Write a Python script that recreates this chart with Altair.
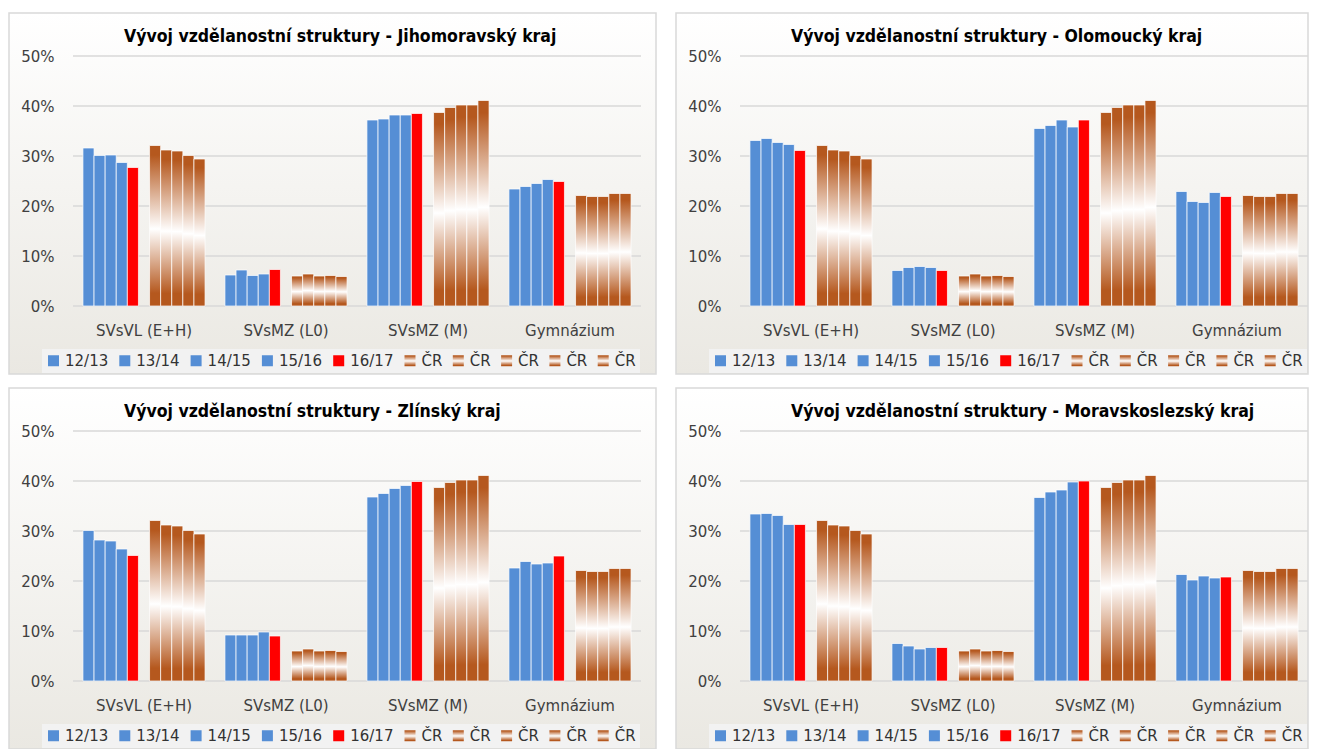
import altair as alt
import pandas as pd

categories = ["SVsVL (E+H)", "SVsMZ (L0)", "SVsMZ (M)", "Gymnázium"]
years = ["12/13", "13/14", "14/15", "15/16", "16/17"]
cr_keys = ["ČR " + y for y in years]

# national (ČR) values per category, one per school year
cr_svsvl = [32.1, 31.2, 31.0, 30.1, 29.4]
cr_l0 = [6.0, 6.4, 6.0, 6.1, 5.9]
cr_m = [38.7, 39.7, 40.2, 40.2, 41.1]
cr_gym = [22.1, 21.9, 21.9, 22.5, 22.5]
cr_values = [cr_svsvl, cr_l0, cr_m, cr_gym]

# regional values
jmk_svsvl = [31.6, 30.1, 30.2, 28.7, 27.7]
jmk_l0 = [6.2, 7.2, 6.1, 6.4, 7.3]
jmk_m = [37.2, 37.4, 38.2, 38.2, 38.5]
jmk_gym = [23.4, 23.9, 24.5, 25.3, 24.9]

olk_svsvl = [33.1, 33.5, 32.7, 32.3, 31.1]
olk_l0 = [7.1, 7.7, 7.9, 7.7, 7.1]
olk_m = [35.5, 36.1, 37.2, 35.8, 37.2]
olk_gym = [22.9, 20.9, 20.7, 22.7, 21.9]

zlk_svsvl = [30.1, 28.2, 28.0, 26.4, 25.1]
zlk_l0 = [9.2, 9.2, 9.2, 9.8, 9.0]
zlk_m = [36.8, 37.5, 38.5, 39.1, 39.9]
zlk_gym = [22.6, 23.9, 23.4, 23.6, 25.0]

msk_svsvl = [33.4, 33.5, 33.1, 31.3, 31.3]
msk_l0 = [7.5, 7.0, 6.4, 6.7, 6.7]
msk_m = [36.7, 37.8, 38.2, 39.8, 40.0]
msk_gym = [21.3, 20.2, 21.0, 20.6, 20.8]

regions = [
    ("Vývoj vzdělanostní struktury - Jihomoravský kraj", [jmk_svsvl, jmk_l0, jmk_m, jmk_gym]),
    ("Vývoj vzdělanostní struktury - Olomoucký kraj", [olk_svsvl, olk_l0, olk_m, olk_gym]),
    ("Vývoj vzdělanostní struktury - Zlínský kraj", [zlk_svsvl, zlk_l0, zlk_m, zlk_gym]),
    ("Vývoj vzdělanostní struktury - Moravskoslezský kraj", [msk_svsvl, msk_l0, msk_m, msk_gym]),
]

y_ticks = [0, 10, 20, 30, 40, 50]

BLUE = "#558ED5"
RED = "#FF0000"
BROWN = "#B5581E"
TEXT = "#404040"
LABEL_FONT = "DejaVu Sans"
TITLE_FONT = "Liberation Sans Narrow, DejaVu Sans Condensed, Arial Narrow, sans-serif"

grad_expr = (
    "{gradient:'linear',x1:0,y1:0,x2:0,y2:1,stops:["
    "{offset:0,color:'" + BROWN + "'},"
    "{offset:0.06,color:'" + BROWN + "'},"
    "{offset:0.52,color:'#FFFFFF'},"
    "{offset:0.92,color:'" + BROWN + "'},"
    "{offset:1,color:'" + BROWN + "'}]}"
)

series_domain = years + cr_keys
offset_domain = years + ["gap"] + cr_keys
color_range = [BLUE, BLUE, BLUE, BLUE, RED] + [{"expr": grad_expr}] * 5

bg_fill = {
    "gradient": "linear", "x1": 0, "y1": 0, "x2": 0, "y2": 1,
    "stops": [{"offset": 0, "color": "#FFFFFF"}, {"offset": 1, "color": "#EAE8E2"}],
}

y_scale = alt.Scale(domain=[0, 50], nice=False)
y_axis = alt.Axis(
    title=None, values=y_ticks, labelExpr="datum.value + '%'", grid=False,
    domain=False, ticks=False, labelPadding=19, labelFont=LABEL_FONT,
    labelFontSize=15, labelColor=TEXT, zindex=1,
)


def panel(title, reg, right_extent):
    rows = []
    for ci, cat in enumerate(categories):
        for yi, y in enumerate(years):
            rows.append({"cat": cat, "series": y, "value": reg[ci][yi]})
        for yi, k in enumerate(cr_keys):
            rows.append({"cat": cat, "series": k, "value": cr_values[ci][yi]})
    df = pd.DataFrame(rows)

    bg = alt.Chart(alt.Data(values=[{}])).mark_rect(
        fill=bg_fill, stroke="#D9D9D9", strokeWidth=1.5
    ).encode(x=alt.value(-64), x2=alt.value(right_extent), y=alt.value(-43), y2=alt.value(318))

    grid = alt.Chart(pd.DataFrame({"value": y_ticks})).mark_rule(
        color="#D9D9D9", strokeWidth=1.5
    ).encode(y=alt.Y("value:Q", scale=y_scale, axis=y_axis))

    bars = alt.Chart(df).mark_bar(stroke="white", strokeWidth=1, strokeOpacity=0.7).encode(
        x=alt.X(
            "cat:N", sort=categories, title=None,
            scale=alt.Scale(paddingInner=0.14, paddingOuter=0.07),
            axis=alt.Axis(labelAngle=0, domain=False, ticks=False, labelPadding=17,
                          labelFont=LABEL_FONT, labelFontSize=15, labelColor=TEXT,
                          zindex=1),
        ),
        xOffset=alt.XOffset("series:N", scale=alt.Scale(domain=offset_domain, paddingInner=0, paddingOuter=0)),
        y=alt.Y("value:Q", scale=y_scale, axis=y_axis),
        color=alt.Color(
            "series:N",
            scale=alt.Scale(domain=series_domain, range=color_range),
            legend=alt.Legend(
                title=None, orient="none", legendX=-31, legendY=293,
                direction="horizontal", columns=10, gridAlign="each",
                labelExpr="slice(datum.label, 0, 2) == 'ČR' ? 'ČR' : datum.label",
                fillColor="#F2F2F2", padding=4, symbolType="square", symbolSize=121,
                symbolStrokeWidth=0, symbolOpacity=1, labelFont=LABEL_FONT,
                labelFontSize=15, labelColor="#333333", labelOffset=4,
                columnPadding=8.3, zindex=1,
            ),
        ),
    )

    return alt.layer(bg, grid, bars).properties(
        width=568, height=250,
        title=alt.TitleParams(
            text=title, anchor="start", frame="group", dx=51, offset=-33,
            font=TITLE_FONT, fontSize=17.5, fontWeight="bold", color="#000000", zindex=1,
        ),
    )


panels = [panel(t, r, 583 if i % 2 == 0 else 568) for i, (t, r) in enumerate(regions)]
row1 = alt.hconcat(panels[0], panels[1], spacing=18).resolve_scale(color="independent").resolve_legend(color="independent")
row2 = alt.hconcat(panels[2], panels[3], spacing=18).resolve_scale(color="independent").resolve_legend(color="independent")
chart = (
    alt.vconcat(row1, row2, spacing=12)
    .resolve_scale(color="independent")
    .resolve_legend(color="independent")
    .configure(padding={"left": 0, "top": 4, "right": 0, "bottom": 0}, background="white")
    .configure_view(stroke=None)
)

chart.save("out.html", embed_options={"renderer": "svg", "actions": False})
